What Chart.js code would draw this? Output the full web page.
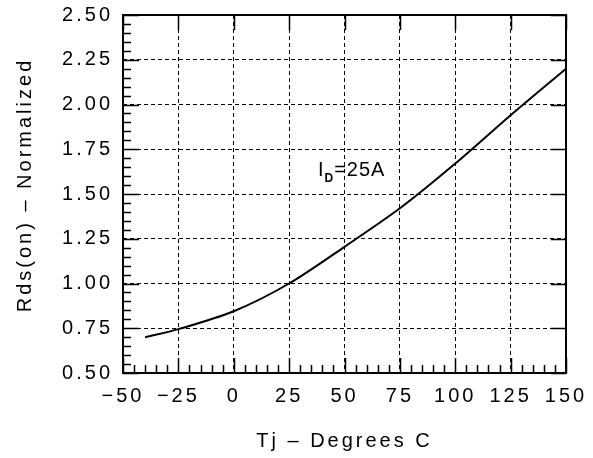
<!DOCTYPE html>
<html>
<head>
<meta charset="utf-8">
<script src="https://cdn.jsdelivr.net/npm/chart.js@4/dist/chart.umd.min.js"></script>
<style>
  html, body { margin: 0; padding: 0; background: #fff; }
  canvas { display: block; }
</style>
</head>
<body>
<canvas id="rdsChart" width="593" height="458"></canvas>
<script>
// ── Data ──
const tempC   = [-40, -25, 0, 25, 50, 75, 100, 125, 150];
const rdsNorm = [0.70, 0.745, 0.845, 1.00, 1.205, 1.42, 1.67, 1.94, 2.20];
const xTicks  = [-50, -25, 0, 25, 50, 75, 100, 125, 150];
const yTicks  = [0.50, 0.75, 1.00, 1.25, 1.50, 1.75, 2.00, 2.25, 2.50];
const noteLabel = { main: 'I', sub: 'D', rest: '=25A', x: 38, y: 1.63 };
const yTitle = 'Rds(on) \u2013 Normalized';

const FONT = '"Liberation Sans", Arial, sans-serif';
const SPACING = '3px';

// letter spacing survives save/restore but not canvas resets, so set it each pass
const spacingPlugin = {
    id: 'spacing',
    beforeLayout: (chart) => { chart.ctx.letterSpacing = SPACING; },
    beforeDraw:   (chart) => { chart.ctx.letterSpacing = SPACING; }
};

// frame, inside tick marks, y title and the I_D note
const framePlugin = {
    id: 'frame',
    afterDraw(chart) {
        const { ctx, chartArea: a, scales: { x, y } } = chart;
        ctx.save();
        ctx.strokeStyle = '#000';
        ctx.lineWidth = 1.5;
        ctx.beginPath();
        for (let v = -50; v <= 150; v += 5) {
            const px = Math.round(x.getPixelForValue(v)) + 0.5;
            const major = v % 25 === 0;
            ctx.moveTo(px, a.bottom); ctx.lineTo(px, a.bottom - (major ? 15 : 8));
            if (major) { ctx.moveTo(px, a.top); ctx.lineTo(px, a.top + 15); }
        }
        for (let i = 0; i <= 40; i++) {
            const v = 0.5 + i * 0.05;
            const py = Math.round(y.getPixelForValue(v)) + 0.5;
            const major = i % 5 === 0;
            ctx.moveTo(a.left, py); ctx.lineTo(a.left + (major ? 16 : 8), py);
            if (major) { ctx.moveTo(a.right, py); ctx.lineTo(a.right - 15, py); }
        }
        ctx.stroke();
        ctx.lineWidth = 2;
        ctx.strokeRect(a.left, a.top, a.right - a.left, a.bottom - a.top);

        ctx.fillStyle = '#000';
        // y title, sits a little above the plot centre in the original
        ctx.save();
        ctx.translate(25, 185);
        ctx.rotate(-Math.PI / 2);
        ctx.font = '20px ' + FONT;
        ctx.letterSpacing = SPACING;
        ctx.textAlign = 'center';
        ctx.textBaseline = 'middle';
        ctx.fillText(yTitle, 0, 0);
        ctx.restore();

        // annotation
        ctx.letterSpacing = '1px';
        ctx.textBaseline = 'middle';
        ctx.textAlign = 'left';
        let px = x.getPixelForValue(noteLabel.x);
        const py = y.getPixelForValue(noteLabel.y);
        ctx.font = '20px ' + FONT;
        ctx.fillText(noteLabel.main, px, py);
        px += ctx.measureText(noteLabel.main).width;
        ctx.font = 'bold 12px ' + FONT;
        ctx.fillText(noteLabel.sub, px, py + 8);
        px += ctx.measureText(noteLabel.sub).width;
        ctx.font = '20px ' + FONT;
        ctx.fillText(noteLabel.rest, px, py);
        ctx.restore();
    }
};

const gridCfg = { color: '#000', lineWidth: 1, drawTicks: false };

new Chart(document.getElementById('rdsChart').getContext('2d'), {
    type: 'line',
    data: {
        datasets: [{
            data: tempC.map((t, i) => ({ x: t, y: rdsNorm[i] })),
            borderColor: '#000', borderWidth: 2, pointRadius: 0,
            tension: 0.3, fill: false
        }]
    },
    options: {
        responsive: false, animation: false, devicePixelRatio: 1,
        layout: { padding: { top: 15, right: 27, left: 0, bottom: 0 } },
        plugins: { legend: { display: false }, tooltip: { enabled: false } },
        scales: {
            x: {
                type: 'linear', min: -50, max: 150,
                afterBuildTicks: (s) => { s.ticks = xTicks.map(v => ({ value: v })); },
                afterFit: (s) => { s.height = 85; s.paddingLeft = 0; s.paddingRight = 0; },
                grid: gridCfg,
                border: { display: false, dash: [4, 3] },
                ticks: {
                    color: '#000', padding: 11, maxRotation: 0,
                    font: { family: FONT, size: 20 },
                    callback: (v) => (v < 0 ? '\u2212' + Math.abs(v) : String(v))
                },
                title: {
                    display: true, text: 'Tj \u2013 Degrees C', color: '#000',
                    font: { family: FONT, size: 20 }, padding: { top: 0, bottom: 5 }
                }
            },
            y: {
                type: 'linear', min: 0.5, max: 2.5,
                afterBuildTicks: (s) => { s.ticks = yTicks.map(v => ({ value: v })); },
                afterFit: (s) => { s.width = 123; s.paddingTop = 0; s.paddingBottom = 0; },
                grid: gridCfg,
                border: { display: false, dash: [4, 3] },
                ticks: {
                    color: '#000', padding: 10,
                    font: { family: FONT, size: 20 },
                    callback: (v) => v.toFixed(2)
                }
            }
        }
    },
    plugins: [spacingPlugin, framePlugin]
});
</script>
</body>
</html>
